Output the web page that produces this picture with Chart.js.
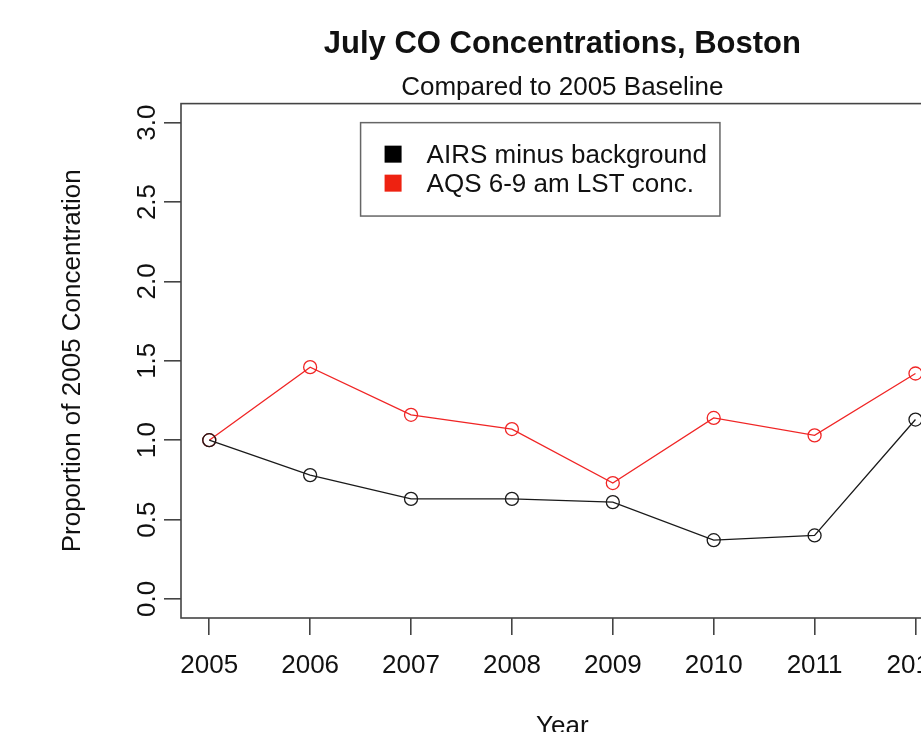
<!DOCTYPE html>
<html>
<head>
<meta charset="utf-8">
<title>July CO Concentrations, Boston</title>
<script src="https://cdn.jsdelivr.net/npm/chart.js@4/dist/chart.umd.min.js"></script>
<style>
  html, body { margin: 0; padding: 0; background: #fff; overflow: hidden; }
  #wrap { width: 921px; height: 732px; overflow: hidden; position: relative; }
  #chart { position: absolute; left: 0; top: 0; }
</style>
</head>
<body>
<div id="wrap"><canvas id="chart" width="960" height="760"></canvas></div>
<script>
// Years of record
const years = [2005, 2006, 2007, 2008, 2009, 2010, 2011, 2012];

// July CO as a proportion of the 2005 value
const airsMinusBackground = [1.00, 0.78, 0.63, 0.63, 0.61, 0.37, 0.40, 1.13];
const aqsMorningConc      = [1.00, 1.46, 1.16, 1.07, 0.73, 1.14, 1.03, 1.42];

// Axis ticks and their labels
const xTicks = years;
const xTickLabels = ['2005', '2006', '2007', '2008', '2009', '2010', '2011', '2012'];
const yTicks = [0, 0.5, 1.0, 1.5, 2.0, 2.5, 3.0];
const yTickLabels = ['0.0', '0.5', '1.0', '1.5', '2.0', '2.5', '3.0'];

// Series names
const seriesNames = ['AIRS minus background', 'AQS 6-9 am LST conc.'];

const FONT = '"Liberation Sans", Arial, Helvetica, sans-serif';
const INK = '#111';
const AXIS = '#444';

Chart.defaults.font.family = FONT;
Chart.defaults.color = INK;

// axis limits padded by 4% of the data range on each side
const pad = (lo, hi) => [lo - 0.04 * (hi - lo), hi + 0.04 * (hi - lo)];
const [xMin, xMax] = pad(xTicks[0], xTicks[xTicks.length - 1]);
const [yMin, yMax] = pad(yTicks[0], yTicks[yTicks.length - 1]);

const toPoints = (vals) => years.map((yr, i) => ({ x: yr, y: vals[i] }));

// Box drawn round the plotting region
const plotFrame = {
  id: 'plotFrame',
  afterDraw(chart) {
    const { ctx, chartArea: a } = chart;
    ctx.save();
    ctx.strokeStyle = AXIS;
    ctx.lineWidth = 1.6;
    ctx.strokeRect(a.left, a.top, a.right - a.left, a.bottom - a.top);
    ctx.restore();
  }
};

// Legend with filled swatches inside a bordered box, anchored at a data position
const boxedLegend = {
  id: 'boxedLegend',
  afterDraw(chart, args, opts) {
    const { ctx, scales } = chart;
    const left = scales.x.getPixelForValue(opts.atX);
    const top = scales.y.getPixelForValue(opts.atY);
    ctx.save();
    ctx.font = opts.fontSize + 'px ' + FONT;
    const items = chart.data.datasets.map(d => ({ text: d.label, color: d.swatch }));
    const textW = Math.max(...items.map(it => ctx.measureText(it.text).width));
    const w = opts.textIndent + textW + opts.rightPad;
    const h = opts.height;
    ctx.fillStyle = '#fff';
    ctx.fillRect(left, top, w, h);
    ctx.strokeStyle = '#666';
    ctx.lineWidth = 1.5;
    ctx.strokeRect(left, top, w, h);
    ctx.textBaseline = 'middle';
    ctx.textAlign = 'left';
    items.forEach((it, i) => {
      const cy = top + opts.firstRow + i * opts.rowGap;
      ctx.fillStyle = it.color;
      ctx.fillRect(left + opts.swatchIndent, cy - opts.swatch / 2 - 1, opts.swatch, opts.swatch);
      ctx.fillStyle = INK;
      ctx.fillText(it.text, left + opts.textIndent, cy + 1);
    });
    ctx.restore();
  }
};

const lineStyle = (color) => ({
  borderColor: color,
  borderWidth: 1.3,
  tension: 0,
  pointStyle: 'circle',
  pointRadius: 6.5,
  pointBorderWidth: 1.3,
  pointBorderColor: color,
  pointBackgroundColor: 'rgba(0,0,0,0)',
  clip: false
});

new Chart(document.getElementById('chart'), {
  type: 'line',
  data: {
    datasets: [
      Object.assign({ label: seriesNames[0], data: toPoints(airsMinusBackground), swatch: '#000000' }, lineStyle('#1a1a1a')),
      Object.assign({ label: seriesNames[1], data: toPoints(aqsMorningConc), swatch: '#ee2211' }, lineStyle('#f02525'))
    ]
  },
  options: {
    responsive: false,
    animation: false,
    devicePixelRatio: 1,
    layout: { padding: { left: 0, top: 0, right: 13.3, bottom: 0 } },
    plugins: {
      legend: { display: false },
      tooltip: { enabled: false },
      title: {
        display: true,
        fullSize: false,
        text: 'July CO Concentrations, Boston',
        color: INK,
        font: { size: 31, weight: 'bold', family: FONT },
        padding: { top: 25.5, bottom: 0 }
      },
      subtitle: {
        display: true,
        fullSize: false,
        text: 'Compared to 2005 Baseline',
        color: INK,
        font: { size: 26, weight: 'normal', family: FONT },
        padding: { top: 9.7, bottom: 0 }
      },
      boxedLegend: {
        atX: 2006.5, atY: 3.0,
        fontSize: 26, height: 93.4,
        swatch: 17, swatchIndent: 24, textIndent: 66, rightPad: 13,
        firstRow: 32.5, rowGap: 29
      }
    },
    scales: {
      x: {
        type: 'linear',
        position: 'bottom',
        min: xMin,
        max: xMax,
        afterFit: (s) => { s.height = 142; },
        afterBuildTicks: (s) => { s.ticks = xTicks.map(v => ({ value: v })); },
        border: { display: false },
        grid: { display: true, drawOnChartArea: false, drawTicks: true, tickLength: 17, color: AXIS, lineWidth: 1.6 },
        ticks: {
          autoSkip: false,
          maxRotation: 0,
          minRotation: 0,
          padding: 15,
          color: INK,
          font: { size: 26, family: FONT },
          callback: (v, i) => xTickLabels[i]
        },
        title: {
          display: true,
          text: 'Year',
          color: INK,
          font: { size: 26, family: FONT },
          padding: { top: 0, bottom: 17.4 }
        }
      },
      y: {
        type: 'linear',
        position: 'left',
        min: yMin,
        max: yMax,
        afterFit: (s) => { s.width = 181; },
        afterBuildTicks: (s) => { s.ticks = yTicks.map(v => ({ value: v })); },
        border: { display: false },
        grid: { display: true, drawOnChartArea: false, drawTicks: true, tickLength: 17, color: AXIS, lineWidth: 1.6 },
        ticks: {
          minRotation: 90,
          maxRotation: 90,
          crossAlign: 'center',
          padding: -2,
          color: INK,
          font: { size: 26, family: FONT },
          callback: (v, i) => yTickLabels[i]
        },
        title: {
          display: true,
          text: 'Proportion of 2005 Concentration',
          color: INK,
          font: { size: 26, family: FONT },
          padding: { top: 57.4, bottom: 0 }
        }
      }
    }
  },
  plugins: [plotFrame, boxedLegend]
});
</script>
</body>
</html>
